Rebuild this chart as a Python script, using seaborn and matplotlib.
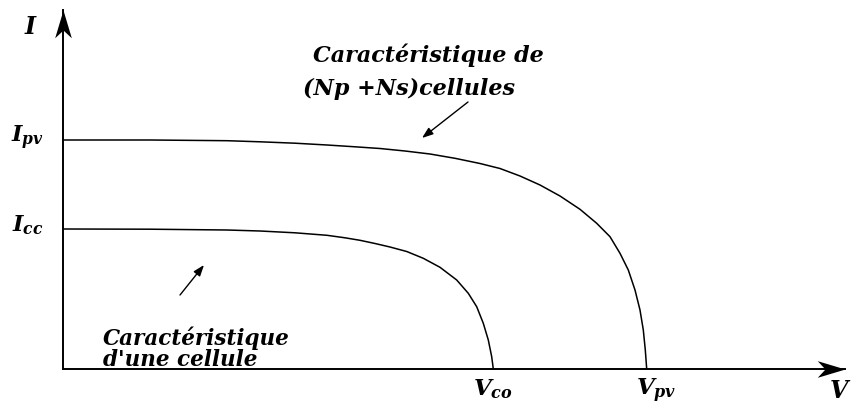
import numpy as np
import pandas as pd
import matplotlib
matplotlib.use("Agg")
import matplotlib.pyplot as plt
import seaborn as sns
from matplotlib.path import Path

# I-V characteristic of a PV array (Np + Ns cells) and of a single cell
v_array = [0.0, 8.7, 16.4, 19.7, 23.2, 26.4, 29.2, 31.7, 34.2, 36.7, 39.2, 41.7,
           43.7, 45.7, 47.7, 49.7, 51.7, 53.37, 54.7, 55.7, 56.53, 57.2, 57.7,
           58.03, 58.23, 58.37]
i_array = [22.9, 22.9, 22.83, 22.72, 22.58, 22.4, 22.22, 22.05, 21.8, 21.5, 21.07,
           20.55, 20.05, 19.3, 18.4, 17.3, 15.97, 14.57, 13.23, 11.57, 9.9, 7.9,
           5.9, 3.9, 1.9, 0.0]

v_cell = [0.0, 8.7, 16.4, 19.7, 23.2, 26.4, 28.2, 29.7, 31.2, 32.7, 34.37, 36.03,
          37.7, 39.37, 40.53, 41.37, 42.03, 42.53, 42.87, 43.03]
i_cell = [14.0, 13.98, 13.9, 13.8, 13.62, 13.37, 13.12, 12.87, 12.55, 12.2, 11.75,
          11.07, 10.17, 8.9, 7.57, 6.23, 4.57, 2.9, 1.23, 0.0]

# characteristic points marked on the axes
i_levels = [22.9, 14.0]
i_labels = [r"$I_{pv}$", r"$I_{cc}$"]
v_levels = [43.03, 58.37]
v_labels = [r"$V_{co}$", r"$V_{pv}$"]

v_max, i_max = 78.2, 35.9

df = pd.concat([
    pd.DataFrame({"V": v_array, "I": i_array, "courbe": "array"}),
    pd.DataFrame({"V": v_cell, "I": i_cell, "courbe": "cell"}),
])

sns.set_theme(style="white")
plt.rcParams["font.family"] = ["DejaVu Serif"]
plt.rcParams["mathtext.fontset"] = "custom"
plt.rcParams["mathtext.it"] = "DejaVu Serif:italic:bold"
plt.rcParams["mathtext.rm"] = "DejaVu Serif:bold"

W, H = 857, 412
fig = plt.figure(figsize=(W / 100, H / 100), dpi=100)
ax = fig.add_axes([63 / W, 43 / H, 782 / W, 359 / H])

sns.lineplot(data=df, x="V", y="I", hue="courbe", palette=["black", "black"],
             estimator=None, sort=False, legend=False, lw=1.1, ax=ax)

ax.set_xlim(0, v_max)
ax.set_ylim(0, i_max)
ax.set_xticks([])
ax.set_yticks([])
ax.set_xlabel("")
ax.set_ylabel("")
for s in ["top", "right"]:
    ax.spines[s].set_visible(False)
for s in ["left", "bottom"]:
    ax.spines[s].set_color("black")
    ax.spines[s].set_linewidth(1.4)

# arrow heads at the ends of the axes
codes = [Path.MOVETO, Path.LINETO, Path.LINETO, Path.LINETO, Path.CLOSEPOLY]
head_right = Path([(0, 0), (-1, 0.3), (-0.72, 0), (-1, -0.3), (0, 0)], codes)
head_up = Path([(0, 0), (0.3, -1), (0, -0.72), (-0.3, -1), (0, 0)], codes)
ax.plot(1, 0, marker=head_right, ms=40, color="black", mew=0,
        transform=ax.transAxes, clip_on=False)
ax.plot(0, 1, marker=head_up, ms=40, color="black", mew=0,
        transform=ax.transAxes, clip_on=False)

bold_it = dict(fontweight="bold", fontstyle="italic", color="black")

ax.text(-0.042, 0.953, "I", ha="center", va="center", fontsize=17,
        transform=ax.transAxes, **bold_it)
ax.text(0.992, -0.062, "V", ha="center", va="center", fontsize=17,
        transform=ax.transAxes, **bold_it)

for val, lab in zip(i_levels, i_labels):
    ax.annotate(lab, xy=(0, val), xycoords=("axes fraction", "data"),
                xytext=(-14, -1.5), textcoords="offset points",
                ha="right", va="baseline", fontsize=16, color="black")

for val, lab, dx in zip(v_levels, v_labels, [0, 7]):
    ax.annotate(lab, xy=(val, 0), xycoords="data",
                xytext=(dx, -19), textcoords="offset points",
                ha="center", va="baseline", fontsize=16.5, color="black")

ax.text(25.0, 30.7, "Caractéristique de", ha="left", va="baseline",
        fontsize=16, **bold_it)
ax.text(24.0, 27.4, "(Np +Ns)cellules", ha="left", va="baseline",
        fontsize=16, **bold_it)
ax.text(4.0, 2.45, "Caractéristique", ha="left", va="baseline",
        fontsize=15.5, **bold_it)
ax.text(4.0, 0.25, "d'une cellule", ha="left", va="baseline",
        fontsize=15.5, **bold_it)

arrow = dict(arrowstyle="-|>,head_length=0.55,head_width=0.2", color="black",
             lw=1.0, shrinkA=0, shrinkB=0)
ax.annotate("", xy=(35.9, 23.1), xytext=(40.5, 26.7), arrowprops=arrow)
ax.annotate("", xy=(14.1, 10.4), xytext=(11.7, 7.4), arrowprops=arrow)

fig.savefig("out.png", dpi=100, facecolor="white")
